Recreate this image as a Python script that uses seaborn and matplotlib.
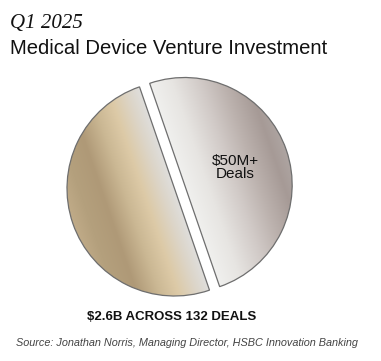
import numpy as np
import matplotlib
matplotlib.use("Agg")
import matplotlib.pyplot as plt
import seaborn as sns
from matplotlib.colors import LinearSegmentedColormap

# ---- data ----
slice_labels = ["$50M+\nDeals", ""]
slice_values = [50, 50]
title_text = "Q1 2025"
subtitle_text = "Medical Device Venture Investment"
total_text = "$2.6B ACROSS 132 DEALS"
source_text = "Source: Jonathan Norris, Managing Director, HSBC Innovation Banking"

sns.set_theme(style="white")
plt.rcParams['font.family'] = ['Liberation Sans', 'DejaVu Sans']

W, H = 381, 361
fig = plt.figure(figsize=(W / 100, H / 100), dpi=100)
ax = fig.add_axes([0, 0, 1, 1])

R = 107.5
C = (174.5, H - 188.5)
start = -71
explode_frac = [0.1, 0.0]

wedges, texts = ax.pie(slice_values, labels=slice_labels,
                       explode=[e * R for e in explode_frac],
                       startangle=start, counterclock=True, radius=R, center=C,
                       labeldistance=0.5, frame=False,
                       wedgeprops=dict(facecolor="none", edgecolor="#6e6e6e", linewidth=0.9),
                       textprops=dict(fontsize=11, color="#111111"))
for t in texts:
    t.set_ha("center")
    t.set_va("center")
    t.set_linespacing(0.95)

cmap_right = LinearSegmentedColormap.from_list("r", [
    (0.0, "#f0f0ee"), (0.2, "#e7e5e2"), (0.45, "#d1cac7"),
    (0.65, "#bcb2ae"), (0.87, "#a69a96"), (1.0, "#aea5a2")])
cmap_left = LinearSegmentedColormap.from_list("l", [
    (0.0, "#dfdedc"), (0.12, "#dcd5c8"), (0.28, "#ddcaa7"),
    (0.45, "#cbb894"), (0.65, "#af9977"), (0.85, "#b4a07d"), (1.0, "#c0ab88")])

ang = np.deg2rad(start + 90)  # perpendicular to the cut, toward the right slice
cosA, sinA = np.cos(ang), np.sin(ang)
for w, cm, sign in zip(wedges, [cmap_right, cmap_left], [1, -1]):
    cx, cy = w.center
    n = 300
    xs = np.linspace(cx - R - 3, cx + R + 3, n)
    ys = np.linspace(cy - R - 3, cy + R + 3, n)
    X, Y = np.meshgrid(xs, ys)
    tt = sign * ((X - cx) * cosA + (Y - cy) * sinA) / R
    tt = np.clip(tt, 0, 1)
    im = ax.imshow(tt, cmap=cm, vmin=0, vmax=1, origin="lower",
                   extent=[xs[0], xs[-1], ys[0], ys[-1]], interpolation="bilinear",
                   zorder=0.5)
    im.set_clip_path(w)
    w.set_zorder(1)

ax.set_xlim(0, W)
ax.set_ylim(0, H)
ax.set_aspect("equal")
ax.axis("off")

fig.text(10 / W, 1 - 28 / H, title_text, fontsize=15, style="italic",
         family=["Liberation Serif", "DejaVu Serif"], color="#111111", va="baseline")
fig.text(10 / W, 1 - 54 / H, subtitle_text, fontsize=14.6, color="#111111", va="baseline")
fig.text(171.5 / W, 1 - 320 / H, total_text, fontsize=9.5, fontweight="bold",
         color="#111111", ha="center", va="baseline")
fig.text(186.5 / W, 1 - 346 / H, source_text, fontsize=7.8, style="italic",
         color="#444444", ha="center", va="baseline")

fig.savefig("out.png", dpi=100)
